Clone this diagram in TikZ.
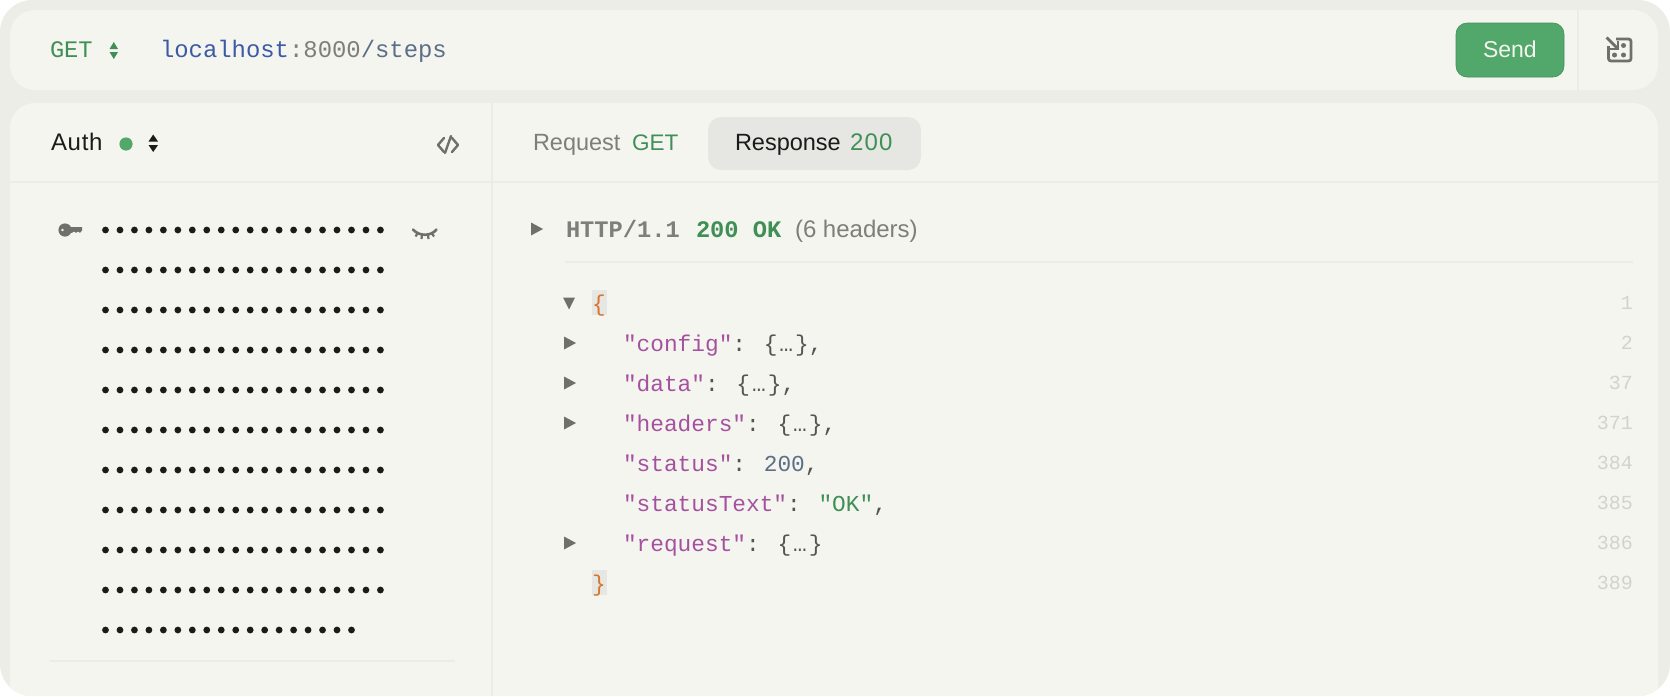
\documentclass[tikz,border=0pt]{standalone}
\usepackage{fontspec}
\setmainfont{Liberation Sans}
\setmonofont{Liberation Mono}
\definecolor{card}{HTML}{ECEDE7}
\definecolor{panel}{HTML}{F4F5EF}
\definecolor{rulec}{HTML}{EBECE6}
\definecolor{greent}{HTML}{3F8F57}
\definecolor{greenb}{HTML}{52A86B}
\definecolor{bluet}{HTML}{3D5AA6}
\definecolor{greyt}{HTML}{7E7E7A}
\definecolor{slate}{HTML}{5C6F86}
\definecolor{purp}{HTML}{A5519F}
\definecolor{orng}{HTML}{D8752E}
\definecolor{inkc}{HTML}{1B1B19}
\definecolor{tri}{HTML}{6F6F6B}
\definecolor{numc}{HTML}{D2D3CD}
\definecolor{tabbg}{HTML}{E6E7E2}
\newcommand{\fs}[1]{\fontsize{#1}{#1}\selectfont}
\newcommand{\pn}[1]{\textcolor{inkc!75}{#1}}
\newcommand{\gapv}{\hspace{4pt}}
\newcommand{\folded}{\pn{\{\hspace{2pt}…\hspace{2pt}\}}}
\begin{document}
\begin{tikzpicture}[x=1pt,y=-1pt,
  txt/.style={anchor=base west,inner sep=0pt,outer sep=0pt},
  mono/.style={txt,font=\ttfamily\fs{22.8}},
  sans/.style={txt,font=\fs{23.5}},
  lnum/.style={anchor=base east,inner sep=0pt,font=\ttfamily\fs{20},text=numc},
  rulel/.style={draw=rulec,line width=1.2pt},
  trifill/.style={fill=tri}]
\useasboundingbox (0,0) rectangle (1670,696);
\begin{scope}
\clip[rounded corners=32pt] (0,0) rectangle (1670,696);
\fill[card] (0,0) rectangle (1670,696);
\fill[panel,rounded corners=25pt] (10,10) rectangle (1658,90);
\fill[panel,rounded corners=25pt] (10,103) rectangle (1658,760);
\end{scope}
% top bar
\node[mono,font=\ttfamily\fs{23.7},text=greent] (method) at (50,57) {GET};
\fill[greent] (109.5,49) -- (118,49) -- (113.8,42) -- cycle;
\fill[greent] (109.5,52) -- (118,52) -- (113.8,59) -- cycle;
\node[mono,font=\ttfamily\fs{23.9}] (url) at (160,57) {\textcolor{bluet}{localhost}\textcolor{greyt}{:8000}\textcolor{slate}{/steps}};
\draw[draw=greenb!85!black,fill=greenb,line width=.6pt,rounded corners=11pt] (1456,23) rectangle (1564,77);
\node[sans,font=\fs{23},text=panel] (send) at (1483,57) {Send};
\draw[rulel] (1578,10) -- (1578,90);
% corner icon
\draw[tri,line width=2.8pt,rounded corners=2.5pt] (1616,39) -- (1631,39) -- (1631,61) -- (1608.5,61) -- (1608.5,46);
\draw[tri,line width=2.8pt] (1606.5,37.5) -- (1617,48);
\draw[tri,line width=2.4pt] (1618,41) -- (1618,49) -- (1610,49);
\foreach \p in {(1623.5,45.5),(1623.5,55),(1614.5,55)} \fill[tri] \p circle (2.5);
% left panel header
\node[sans,font=\addfontfeature{LetterSpace=3}\fs{24},text=inkc] (auth) at (51,150) {Auth};
\fill[greenb] (126,144) circle (6.6);
\fill[inkc] (148.5,141.5) -- (158,141.5) -- (153.2,134.5) -- cycle;
\fill[inkc] (148.5,145) -- (158,145) -- (153.2,152) -- cycle;
\draw[tri,line width=2.4pt,line cap=round,line join=round] (444,138) -- (438,145) -- (444,152);
\draw[tri,line width=2.4pt,line cap=round,line join=round] (452,138) -- (458,145) -- (452,152);
\draw[tri,line width=2.4pt,line cap=round] (451,136) -- (445,153);
\draw[rulel] (10,182) -- (1658,182);
\draw[rulel] (492,103) -- (492,696);
% key
\fill[tri,even odd rule] (65,230) circle (6.6) (62.5,230) circle (1.6);
\fill[tri] (69,227) -- (82,227) -- (82,230.5) -- (80,232.8) -- (78,231.5) -- (76,232.8) -- (74,231.5) -- (72,232.8) -- (69,233) -- cycle;
% closed eye
\draw[tri,line width=2.6pt,line cap=round] (413,229.5) .. controls (419,236.5) and (431,236.5) .. (436.5,229.5);
\draw[tri,line width=2.2pt] (417.5,233.5) -- (415.5,236.5) (422,235) -- (421.5,239) (428,235) -- (428.5,239) (432,233.5) -- (434,236.5);
% password dots
\foreach \yy/\nn in {230/20,270/20,310/20,350/20,390/20,430/20,470/20,510/20,550/20,590/20,630/18}{
  \foreach \ii in {1,...,\nn}{
    \fill[inkc] ({105.5+(\ii-1)*14.47},\yy) circle (3.4);
  }
}
\draw[rulel] (50,661) -- (455,661);
% tabs
\node[sans,text=greyt] (req) at (533,150) {Request};
\node[sans,font=\fs{22.5},text=greent] (reqget) at (632,150) {GET};
\fill[tabbg,rounded corners=13pt] (708,117) rectangle (921,170);
\node[sans,text=inkc] (resp) at (735,150) {Response};
\node[sans,font=\addfontfeature{LetterSpace=5}\fs{24},text=greent] (resp200) at (850,150) {200};
% http line
\fill[trifill] (531,222.5) -- (543,229) -- (531,235.5) -- cycle;
\node[mono,font=\ttfamily\bfseries\fs{23.7},text=greyt] (http) at (566,237) {HTTP/1.1};
\node[mono,font=\ttfamily\bfseries\fs{23.7},text=greent] (ok) at (696,237) {200 OK};
\node[sans,font=\fs{24},text=greyt] (hdrs) at (795,237) {(6 headers)};
\draw[rulel] (565,262) -- (1633,262);
% json
\fill[tri] (563,297.5) -- (575,297.5) -- (569,309.5) -- cycle;
\fill[tabbg] (592,290) rectangle (607,315);
\node[mono,text=orng] (open) at (592,311) {\{};
\foreach \yy in {343,383,423,543}{
  \fill[tri] (564,\yy-6.5) -- (576,\yy) -- (564,\yy+6.5) -- cycle;
}
\node[mono,text=purp] (k1) at (623,351) {"config"\pn{: }\gapv\folded\pn{,}};
\node[mono,text=purp] (k2) at (623,391) {"data"\pn{: }\gapv\folded\pn{,}};
\node[mono,text=purp] (k3) at (623,431) {"headers"\pn{: }\gapv\folded\pn{,}};
\node[mono,text=purp] (k4) at (623,471) {"status"\pn{: }\gapv\textcolor{slate}{200}\pn{,}};
\node[mono,text=purp] (k5) at (623,511) {"statusText"\pn{: }\gapv\textcolor{greent}{"OK"}\pn{,}};
\node[mono,text=purp] (k6) at (623,551) {"request"\pn{: }\gapv\folded};
\fill[tabbg] (592,570) rectangle (607,595);
\node[mono,text=orng] (close) at (592,591) {\}};
% line numbers
\node[lnum] (n1) at (1633,309) {1};
\node[lnum] (n2) at (1633,349) {2};
\node[lnum] (n3) at (1633,389) {37};
\node[lnum] (n4) at (1633,429) {371};
\node[lnum] (n5) at (1633,469) {384};
\node[lnum] (n6) at (1633,509) {385};
\node[lnum] (n7) at (1633,549) {386};
\node[lnum] (n8) at (1633,589) {389};
\end{tikzpicture}
\end{document}
